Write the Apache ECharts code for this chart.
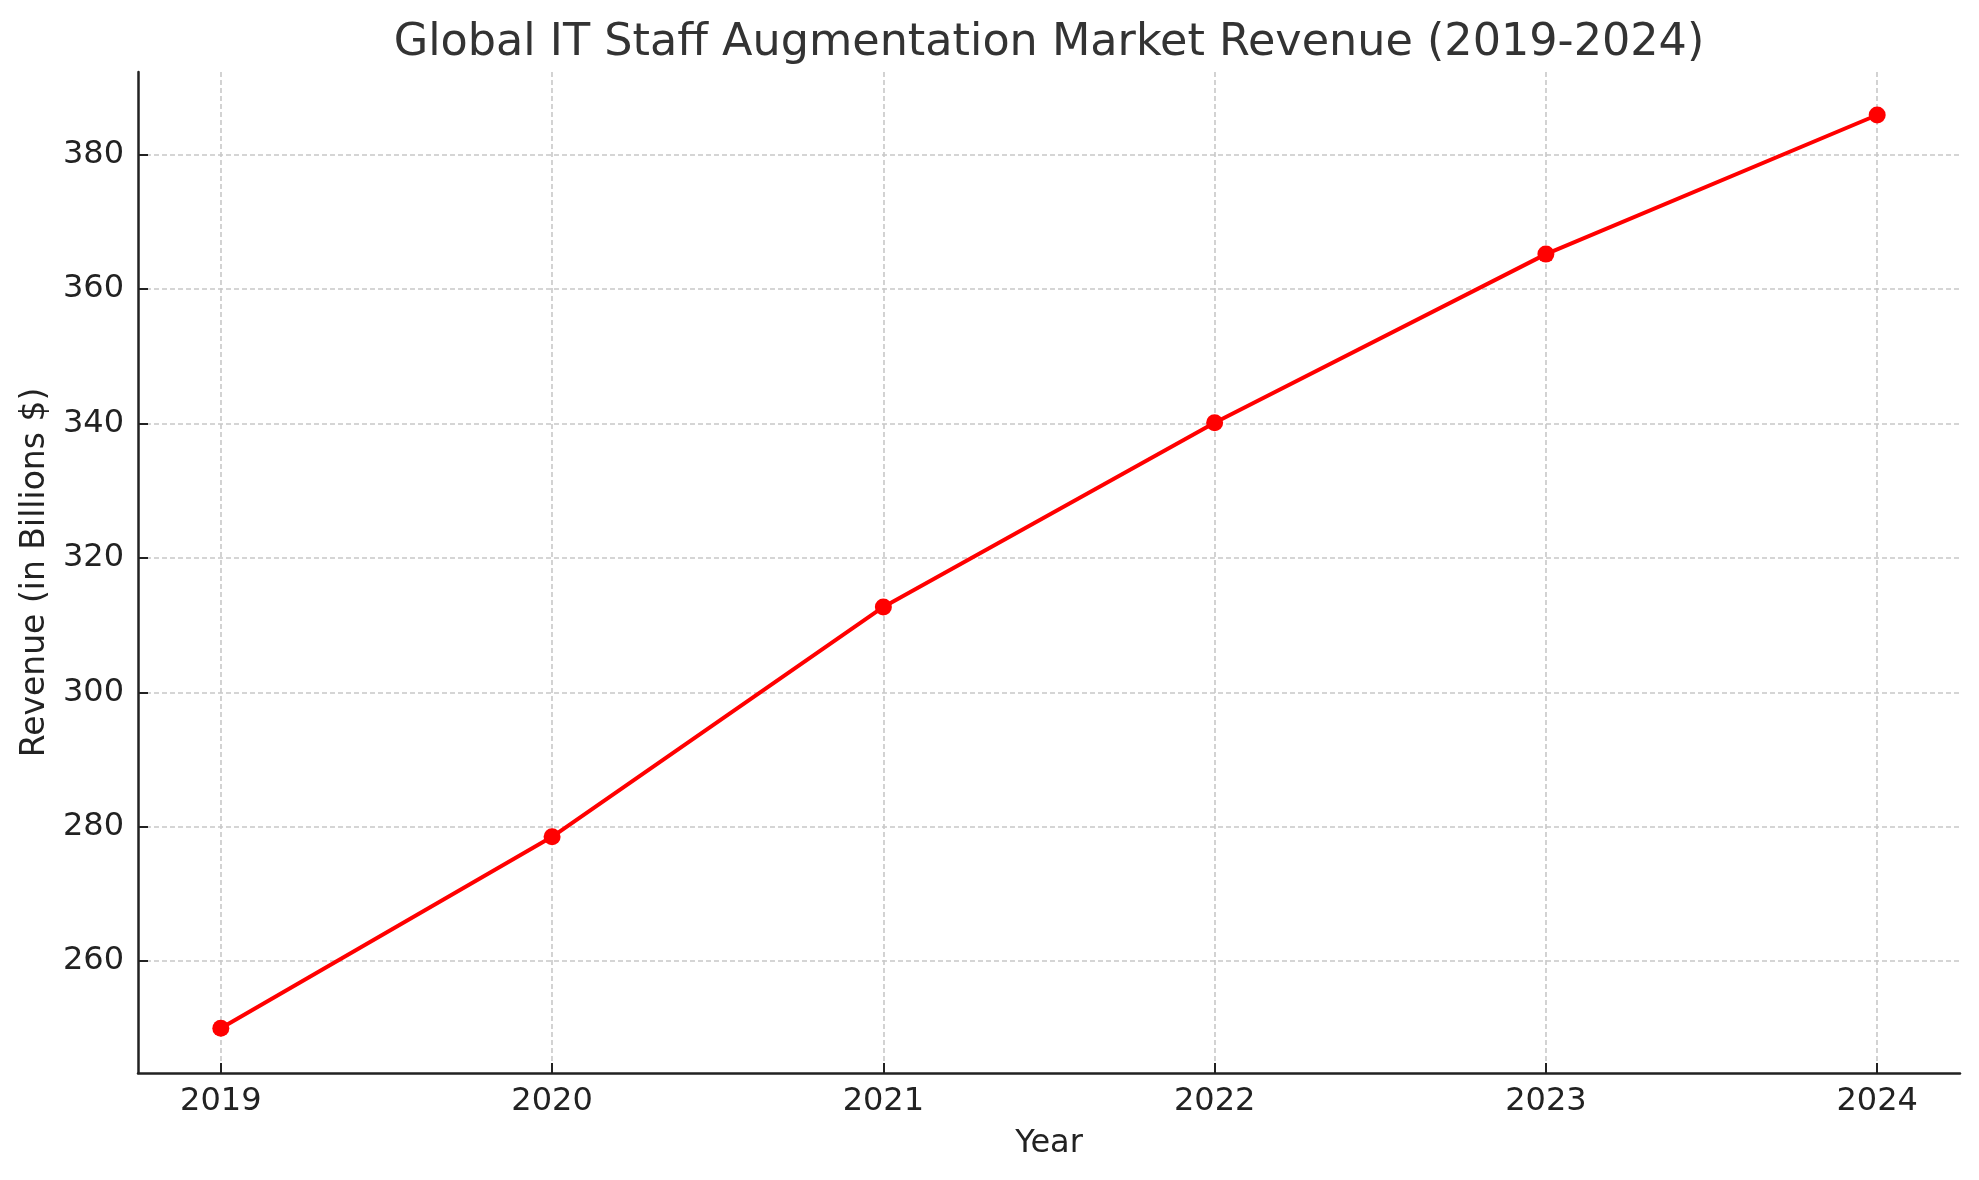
<!DOCTYPE html>
<html>
<head>
<meta charset="utf-8">
<script src="https://cdn.jsdelivr.net/npm/echarts@6/dist/echarts.min.js"></script>
<style>
  html, body { margin: 0; padding: 0; background: #fff; }
  #chart { width: 1979px; height: 1180px; }
</style>
</head>
<body>
<div id="chart"></div>
<script>
var years = [2019, 2020, 2021, 2022, 2023, 2024];
var revenue = [250.0, 278.5, 312.7, 340.1, 365.2, 385.9];
var yTicks = [260, 280, 300, 320, 340, 360, 380];

var chart = echarts.init(document.getElementById('chart'));
var font = 'DejaVu Sans';

var option = {
    backgroundColor: '#ffffff',
    animation: false,
    title: {
        text: 'Global IT Staff Augmentation Market Revenue (2019-2024)',
        left: 1044,
        top: 16,
        textAlign: 'center',
        textStyle: { fontFamily: font, fontSize: 44.5, fontWeight: 'normal', color: '#333333' }
    },
    grid: { left: 138, right: 19, top: 72, bottom: 107 },
    xAxis: {
        type: 'value',
        min: 2018.75,
        max: 2024.25,
        name: 'Year',
        nameLocation: 'middle',
        nameGap: 55,
        nameTextStyle: { fontFamily: font, fontSize: 32, color: '#222222' },
        axisLine: { show: true, onZero: false, lineStyle: { color: '#222222', width: 2.5 } },
        axisTick: { show: true, inside: true, length: 10, customValues: years, lineStyle: { color: '#222222', width: 2 } },
        axisLabel: {
            customValues: years, margin: 13, fontFamily: font, fontSize: 32, color: '#222222',
            formatter: function (v) { return String(v); }
        },
        splitLine: { show: true, lineStyle: { color: '#c8c8c8', width: 1.6, type: [5, 3] } }
    },
    yAxis: {
        type: 'value',
        min: 243.35,
        max: 392.3,
        name: 'Revenue (in Billions $)',
        nameLocation: 'middle',
        nameGap: 86,
        nameTextStyle: { fontFamily: font, fontSize: 33, color: '#222222' },
        axisLine: { show: true, onZero: false, lineStyle: { color: '#222222', width: 2.5 } },
        axisTick: { show: true, inside: true, length: 10, customValues: yTicks, lineStyle: { color: '#222222', width: 2 } },
        axisLabel: { customValues: yTicks, margin: 14, fontFamily: font, fontSize: 32, color: '#222222' },
        splitLine: { show: true, lineStyle: { color: '#c8c8c8', width: 1.6, type: [5, 3] } }
    },
    series: [{
        type: 'line',
        data: years.map(function (y, i) { return [y, revenue[i]]; }),
        symbol: 'circle',
        symbolSize: 17,
        lineStyle: { color: '#ff0000', width: 4 },
        itemStyle: { color: '#ff0000' }
    }]
};

chart.setOption(option);
</script>
</body>
</html>
